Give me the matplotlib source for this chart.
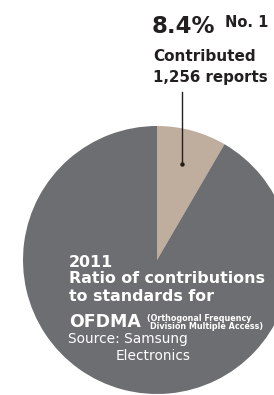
import matplotlib
matplotlib.use("Agg")
import matplotlib.pyplot as plt

# data
labels = ["Samsung", "Others"]
shares = [8.4, 91.6]
colors = ["#bfad9e", "#6d6e71"]

W, H = 274, 395
dark = "#231f20"


def Y(py):
    # pixel row (top origin) -> data y
    return H - py


fig = plt.figure(figsize=(W / 100, H / 100), dpi=100)
ax = fig.add_axes([0, 0, 1, 1])

ax.pie(shares, colors=colors, startangle=90, counterclock=False,
       center=(157, Y(260)), radius=134,
       wedgeprops=dict(linewidth=0))
ax.set_xlim(0, W)
ax.set_ylim(0, H)
ax.set_aspect("equal")
ax.axis("off")

# top annotation
ax.text(152, Y(33), f"{shares[0]}%", fontsize=16.5, fontweight="bold",
        color=dark, va="baseline", ha="left")
ax.text(225, Y(27), "No. 1", fontsize=10.5, fontweight="bold",
        color=dark, va="baseline", ha="left")
ax.text(153, Y(61), "Contributed", fontsize=11, fontweight="bold",
        color=dark, va="baseline", ha="left")
ax.text(153, Y(82), "1,256 reports", fontsize=10.8, fontweight="bold",
        color=dark, va="baseline", ha="left")

# leader line
ax.plot([182, 182], [Y(92), Y(164)], color=dark, lw=1)
ax.plot([182], [Y(164)], "o", color=dark, ms=2.2)

# text inside the pie
ax.text(69, Y(267), "2011", fontsize=11.4, fontweight="bold",
        color="white", va="baseline")
ax.text(69, Y(283), "Ratio of contributions", fontsize=11.4,
        fontweight="bold", color="white", va="baseline")
ax.text(69, Y(301), "to standards for", fontsize=11.4,
        fontweight="bold", color="white", va="baseline")
ax.text(69, Y(327), "OFDMA", fontsize=12.5, fontweight="bold",
        color="white", va="baseline")
ax.text(147, Y(321), "(Orthogonal Frequency", fontsize=5.8,
        fontweight="bold", color="white", va="baseline")
ax.text(150, Y(329), "Division Multiple Access)", fontsize=5.8,
        fontweight="bold", color="white", va="baseline")
ax.text(68, Y(343), "Source: Samsung", fontsize=9.9,
        color="white", va="baseline")
ax.text(116, Y(360), "Electronics", fontsize=9.9,
        color="white", va="baseline")

fig.savefig("out.png", dpi=100)
